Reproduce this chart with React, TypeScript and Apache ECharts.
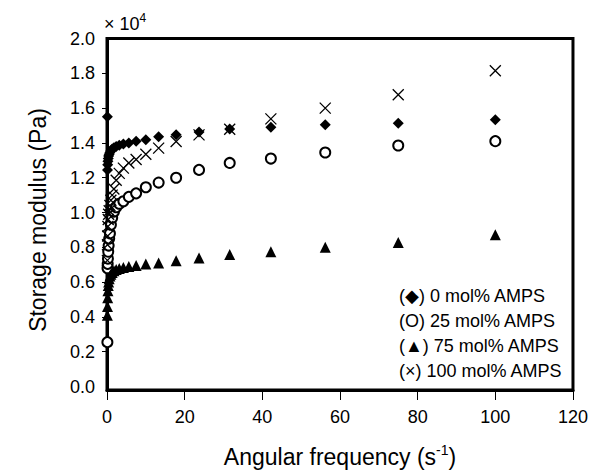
import React, { useEffect, useRef } from "react";
import * as echarts from "echarts";

// Angular frequency (s^-1)
const frequency = [0.1, 0.133, 0.178, 0.237, 0.316, 0.422, 0.562, 0.75, 1, 1.33, 1.78, 2.37, 3.16, 4.22, 5.62, 7.5, 10, 13.3, 17.8, 23.7, 31.6, 42.2, 56.2, 75, 100];

// Storage modulus (x 10^4 Pa)
const amps0 = [1.55, 1.245, 1.275, 1.295, 1.31, 1.325, 1.335, 1.345, 1.355, 1.365, 1.372, 1.38, 1.387, 1.393, 1.4, 1.41, 1.418, 1.436, 1.447, 1.463, 1.48, 1.49, 1.505, 1.513, 1.533];
const amps25 = [0.255, 0.68, 0.705, 0.735, 0.775, 0.81, 0.85, 0.88, 0.93, 0.97, 1.005, 1.03, 1.05, 1.065, 1.09, 1.11, 1.145, 1.172, 1.2, 1.245, 1.285, 1.31, 1.345, 1.385, 1.41];
const amps75 = [0.41, 0.46, 0.51, 0.55, 0.58, 0.6, 0.62, 0.635, 0.645, 0.655, 0.665, 0.672, 0.678, 0.684, 0.69, 0.696, 0.704, 0.71, 0.723, 0.739, 0.758, 0.774, 0.8, 0.827, 0.872];
const amps100 = [0.725, 0.815, 0.865, 0.92, 0.96, 0.99, 1.01, 1.04, 1.07, 1.1, 1.135, 1.185, 1.225, 1.255, 1.285, 1.305, 1.335, 1.37, 1.408, 1.446, 1.478, 1.538, 1.6, 1.677, 1.815];

const seriesNames = ["0 mol% AMPS", "25 mol% AMPS", "75 mol% AMPS", "100 mol% AMPS"];
const legendGlyphs = ["\u25C6", "O", "\u25B2", "\u00D7"];
const yLabelValues = [0, 0.2, 0.4, 0.6, 0.8, 1.0, 1.2, 1.4, 1.6, 1.8, 2.0];
const yTickValues = [0.2, 0.4, 0.6, 0.8, 1.0, 1.2, 1.4, 1.6, 1.8];

const FONT = "'Liberation Sans', Arial, Helvetica, sans-serif";

function pairs(ys: number[]) {
  return frequency.map((f, i) => [f, ys[i]]);
}

export default function App() {
  const ref = useRef<HTMLDivElement>(null);

  useEffect(() => {
    if (!ref.current) return;
    const chart = echarts.init(ref.current, null, { renderer: "svg" });
    const crossPath = "path://M0,0L10,10M10,0L0,10";

    chart.setOption({
      animation: false,
      backgroundColor: "#fff",
      grid: {
        left: 107,
        right: 16,
        top: 38.5,
        bottom: 83,
        show: true,
        borderColor: "#000",
        borderWidth: 3,
        backgroundColor: "transparent",
      },
      xAxis: {
        type: "value",
        min: 0,
        max: 120,
        interval: 20,
        axisLine: { show: true, onZero: false, lineStyle: { color: "#000", width: 3 } },
        axisTick: { show: true, inside: false, length: 10, lineStyle: { color: "#000", width: 1 } },
        axisLabel: { color: "#000", fontSize: 18, fontFamily: FONT, margin: 18 },
        splitLine: { show: false },
      },
      yAxis: {
        type: "value",
        min: -0.02,
        max: 2.0,
        axisLine: { show: true, onZero: false, lineStyle: { color: "#000", width: 3 } },
        axisTick: {
          show: true,
          inside: false,
          length: 5,
          customValues: yTickValues,
          lineStyle: { color: "#000", width: 1 },
        },
        axisLabel: {
          color: "#000",
          fontSize: 18,
          fontFamily: FONT,
          margin: 12,
          customValues: yLabelValues,
          formatter: (v: number) => v.toFixed(1),
        },
        splitLine: { show: false },
      },
      series: [
        {
          name: seriesNames[0],
          type: "scatter",
          data: pairs(amps0),
          symbol: "diamond",
          symbolSize: 11,
          itemStyle: { color: "#000", opacity: 1 },
        },
        {
          name: seriesNames[1],
          type: "scatter",
          data: pairs(amps25),
          symbol: "emptyCircle",
          symbolSize: 10,
          itemStyle: { color: "#000", borderColor: "#000", borderWidth: 1.5, opacity: 1 },
        },
        {
          name: seriesNames[2],
          type: "scatter",
          data: pairs(amps75),
          symbol: "triangle",
          symbolSize: 11,
          itemStyle: { color: "#000", opacity: 1 },
        },
        {
          name: seriesNames[3],
          type: "scatter",
          data: pairs(amps100),
          symbol: crossPath,
          symbolSize: 11,
          itemStyle: { color: "none", borderColor: "#000", borderWidth: 1.3, opacity: 1 },
        },
      ],
      graphic: [
        ...seriesNames.map((name, i) => ({
          type: "text",
          left: 399,
          top: 287 + i * 25,
          style: {
            text: `(${legendGlyphs[i]}) ${name}`,
            fill: "#000",
            fontSize: 18,
            fontFamily: FONT,
          },
        })),
        {
          type: "text",
          x: 38,
          y: 220,
          rotation: Math.PI / 2,
          style: {
            text: "Storage modulus (Pa)",
            fill: "#000",
            fontSize: 23,
            fontFamily: FONT,
            align: "center",
            verticalAlign: "middle",
          },
        },
        {
          type: "text",
          x: 340,
          y: 457,
          style: {
            text: "Angular frequency (s{sup|-1})",
            fill: "#000",
            fontSize: 23,
            fontFamily: FONT,
            align: "center",
            verticalAlign: "middle",
            lineHeight: 28,
            rich: {
              sup: { fontSize: 14, fontFamily: FONT, fill: "#000", verticalAlign: "top", lineHeight: 14 },
            },
          },
        },
        {
          type: "text",
          x: 104,
          y: 24,
          style: {
            text: "\u00D7 10{sup|4}",
            fill: "#000",
            fontSize: 18,
            fontFamily: FONT,
            align: "left",
            verticalAlign: "middle",
            lineHeight: 24,
            rich: {
              sup: { fontSize: 12, fontFamily: FONT, fill: "#000", verticalAlign: "top", lineHeight: 12 },
            },
          },
        },
      ],
    });

    return () => chart.dispose();
  }, []);

  return (
    <div
      ref={ref}
      style={{ position: "absolute", left: 0, top: 0, width: 591, height: 473 }}
    />
  );
}
